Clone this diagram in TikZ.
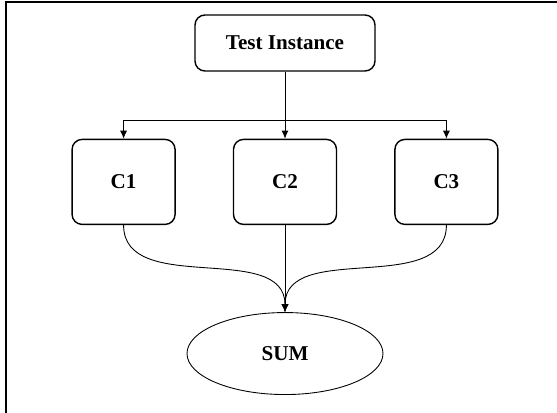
\documentclass[tikz,border=0pt]{standalone}
\usepackage{fontspec}
\setmainfont{Liberation Serif}
\usepackage{tikz}
\usetikzlibrary{arrows.meta,positioning,calc,shapes.geometric}

\begin{document}
\begin{tikzpicture}[
		node distance=13.4mm and 11.4mm,
		box/.style={draw,line width=0.8pt,rounded corners=2mm,align=center,font=\fontsize{12}{14}\selectfont\bfseries},
		arr/.style={-{Latex[length=1.6mm,width=1.4mm]},line width=0.5pt}
	]
	\useasboundingbox (-5.7,0.86) rectangle (5.44,-7.4);
	\draw[line width=1pt] (-5.58,-7.4) -- (-5.58,0.82) -- (5.44,0.82);
	\node[box,minimum width=36mm,minimum height=11.2mm] (test) at (0,0) {Test Instance};
	\node[box,minimum width=20.6mm,minimum height=17mm,below=of test] (c2) {C2};
	\node[box,minimum width=20.6mm,minimum height=17mm,left=of c2] (c1) {C1};
	\node[box,minimum width=20.6mm,minimum height=17mm,right=of c2] (c3) {C3};
	\node[draw,ellipse,line width=0.5pt,minimum width=39.2mm,minimum height=16.4mm,font=\fontsize{12}{14}\selectfont\bfseries,below=17.4mm of c2] (sum) {SUM};
	\coordinate (split) at ($(test.south)!0.72!(c2.north)$);
	\draw[arr] (test) -- (c2);
	\draw[arr] (split) -| (c1);
	\draw[arr] (split) -| (c3);
	\draw[arr] (c1.south) to[out=-90,in=90] (sum.north);
	\draw[arr] (c2) -- (sum);
	\draw[arr] (c3.south) to[out=-90,in=90] (sum.north);
\end{tikzpicture}
\end{document}
